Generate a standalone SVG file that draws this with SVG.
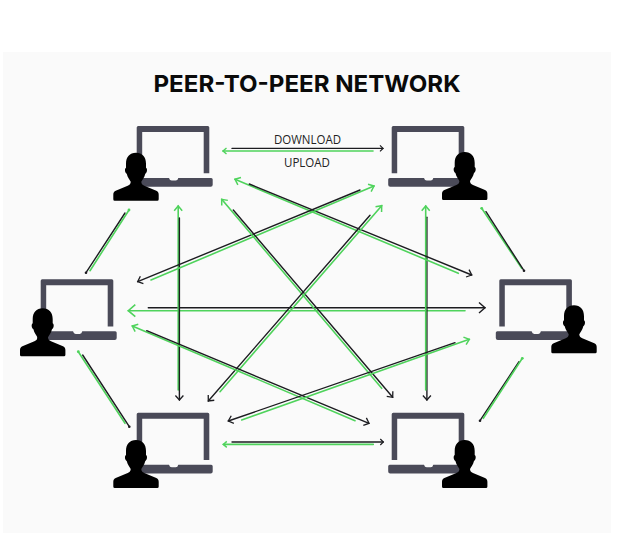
<svg xmlns="http://www.w3.org/2000/svg" width="640" height="548" viewBox="0 0 640 548">
<style>
.t{font-family:"Inter","Liberation Sans",sans-serif;font-weight:700;font-size:23.5px;fill:#0a0a0a}
.l{font-family:"Open Sans","Liberation Sans",sans-serif;font-size:13px;fill:#222}
.g{stroke:#4fd35c;stroke-width:1.6;fill:none;stroke-linecap:round}
.k{stroke:#1c1c20;stroke-width:1.4;fill:none;stroke-linecap:round}
.ga{marker-start:url(#ag)}
.gs{marker-start:url(#ags)}
.gl{marker-start:url(#agl)}
.gd{marker-start:url(#dg)}
.ka{marker-end:url(#ak)}
.ks{marker-end:url(#aks)}
.kl{marker-end:url(#akl)}
.kd{marker-end:url(#dk)}
</style>
<defs>
<marker id="ak" markerUnits="userSpaceOnUse" markerWidth="14" markerHeight="14" refX="9" refY="7" orient="auto" overflow="visible"><path d="M4.5 3L9 7L4.5 11" fill="none" stroke="#1c1c20" stroke-width="1.3"/></marker>
<marker id="aks" markerUnits="userSpaceOnUse" markerWidth="14" markerHeight="14" refX="9" refY="7" orient="auto" overflow="visible"><path d="M6 4L9 7L6 10" fill="none" stroke="#1c1c20" stroke-width="1.2"/></marker>
<marker id="akl" markerUnits="userSpaceOnUse" markerWidth="14" markerHeight="14" refX="9" refY="7" orient="auto" overflow="visible"><path d="M3 1.7L9 7L3 12.3" fill="none" stroke="#1c1c20" stroke-width="1.4"/></marker>
<marker id="ag" markerUnits="userSpaceOnUse" markerWidth="14" markerHeight="14" refX="3" refY="7" orient="auto" overflow="visible"><path d="M7.8 3L3 7L7.8 11" fill="none" stroke="#4fd35c" stroke-width="1.5"/></marker>
<marker id="ags" markerUnits="userSpaceOnUse" markerWidth="14" markerHeight="14" refX="3" refY="7" orient="auto" overflow="visible"><path d="M6.5 4L3 7L6.5 10" fill="none" stroke="#4fd35c" stroke-width="1.4"/></marker>
<marker id="agl" markerUnits="userSpaceOnUse" markerWidth="14" markerHeight="14" refX="3" refY="7" orient="auto" overflow="visible"><path d="M10 1L3 7L10 13" fill="none" stroke="#4fd35c" stroke-width="1.6"/></marker>
<marker id="dk" markerUnits="userSpaceOnUse" markerWidth="4" markerHeight="4" refX="2" refY="2" overflow="visible"><circle cx="2" cy="2" r="1.3" fill="#1c1c20"/></marker>
<marker id="dg" markerUnits="userSpaceOnUse" markerWidth="4" markerHeight="4" refX="2" refY="2" overflow="visible"><circle cx="2" cy="2" r="1.4" fill="#4fd35c"/></marker>
<g id="laptop">
<path fill="#4a4a58" d="M1.5 0H71.1Q72.6 0 72.6 1.5V47.3H67V6H5.5V47.3H0V1.5Q0 0 1.5 0Z"/>
<path fill="#4a4a58" d="M-2 52H32.3Q33 54.6 35 54.6H39Q41 54.6 41.6 52H74.5Q76 52 76 53.5V58.7Q76 60.7 74 60.7H-1.5Q-3.5 60.7 -3.5 58.7V53.5Q-3.5 52 -2 52Z"/>
</g>
<path id="person" fill="#000" d="M22.7 0C29 0 32.7 4 32.7 11L32.7 15C34.4 16 33.8 20 32 21C31 25 29 27 28 29C28 31 29 32 31 33L43 38C45 39 45.4 40 45.4 42L45.4 46.5Q45.4 48 44 48L1.4 48Q0 48 0 46.5L0 42C0 40 .4 39 2.4 38L14.4 33C16.4 32 17.4 31 17.4 29C16.4 27 14.4 25 13.4 21C11.6 20 11 16 12.7 15L12.7 11C12.7 4 16.4 0 22.7 0Z"/>
</defs>
<rect id="panel" x="3" y="52" width="608" height="481" fill="#fafafa"/>
<text class="t" x="153.5" y="92" textLength="307" lengthAdjust="spacingAndGlyphs">PEER-TO-PEER NETWORK</text>
<text class="l" x="274" y="143.5" textLength="67" lengthAdjust="spacingAndGlyphs">DOWNLOAD</text>
<text class="l" x="284" y="166.5" textLength="46" lengthAdjust="spacingAndGlyphs">UPLOAD</text>
<g id="connectors">
<line class="k ks" x1="232" y1="148.4" x2="383" y2="148.4"/>
<line class="g gs" x1="223" y1="151" x2="373" y2="151"/>
<line class="k ks" x1="232" y1="442" x2="383.3" y2="442"/>
<line class="g gs" x1="223.3" y1="444.4" x2="373.3" y2="444.4"/>
<line class="k kl" x1="148.3" y1="307.7" x2="485" y2="307.7"/>
<line class="g gl" x1="128.3" y1="310.7" x2="465" y2="310.7"/>
<line class="g ga" x1="178.2" y1="206" x2="178.2" y2="390"/>
<line class="k ka" x1="179.4" y1="218" x2="179.4" y2="400"/>
<line class="k ka" x1="426.9" y1="217.3" x2="426.9" y2="400"/>
<line class="g ga" x1="425.7" y1="206" x2="425.7" y2="390"/>
<line class="k kd" x1="125" y1="213" x2="86" y2="272.7"/>
<line class="g gd" x1="129" y1="210" x2="90" y2="270.7"/>
<line class="g gd" x1="78.3" y1="351.7" x2="125" y2="423.3"/>
<line class="k kd" x1="82.7" y1="355" x2="129.3" y2="426.7"/>
<line class="g gd" x1="481.7" y1="208.3" x2="521.7" y2="268.3"/>
<line class="k kd" x1="486" y1="211.7" x2="524" y2="270.7"/>
<line class="k kd" x1="519" y1="361.7" x2="480" y2="420.7"/>
<line class="g gd" x1="522.3" y1="358.3" x2="483.3" y2="418.3"/>
<line class="g ga" x1="235" y1="179.3" x2="458.3" y2="273.3"/>
<line class="k ka" x1="249.3" y1="184" x2="471.7" y2="275"/>
<line class="g ga" x1="374" y1="186" x2="151" y2="280"/>
<line class="k ka" x1="360" y1="190" x2="137.7" y2="281.7"/>
<line class="g ga" x1="221.7" y1="199.3" x2="381.7" y2="388.3"/>
<line class="k ka" x1="233.3" y1="210" x2="392.7" y2="397.3"/>
<line class="g ga" x1="381.7" y1="205.7" x2="220" y2="391.7"/>
<line class="k ka" x1="370" y1="215.3" x2="208.3" y2="401"/>
<line class="g ga" x1="132.3" y1="326" x2="355" y2="420.7"/>
<line class="k ka" x1="146.7" y1="330.7" x2="369" y2="423.3"/>
<line class="g ga" x1="469.3" y1="339.3" x2="241.7" y2="420"/>
<line class="k ka" x1="455" y1="342.7" x2="228.3" y2="421"/>
</g>
<g id="peer-top-left"><use href="#laptop" x="136.7" y="126"/><use href="#person" x="113.3" y="152.7"/></g>
<g id="peer-top-right"><use href="#laptop" x="391.7" y="126"/><use href="#person" x="442" y="152"/></g>
<g id="peer-left"><use href="#laptop" x="40.7" y="279.3"/><use href="#person" x="20" y="308.3"/></g>
<g id="peer-right"><use href="#laptop" x="499.3" y="279.3"/><use href="#person" x="551.3" y="305.3"/></g>
<g id="peer-bottom-left"><use href="#laptop" x="136.7" y="412.7"/><use href="#person" x="113.3" y="440"/></g>
<g id="peer-bottom-right"><use href="#laptop" x="391.7" y="412.7"/><use href="#person" x="442" y="440"/></g>
</svg>
